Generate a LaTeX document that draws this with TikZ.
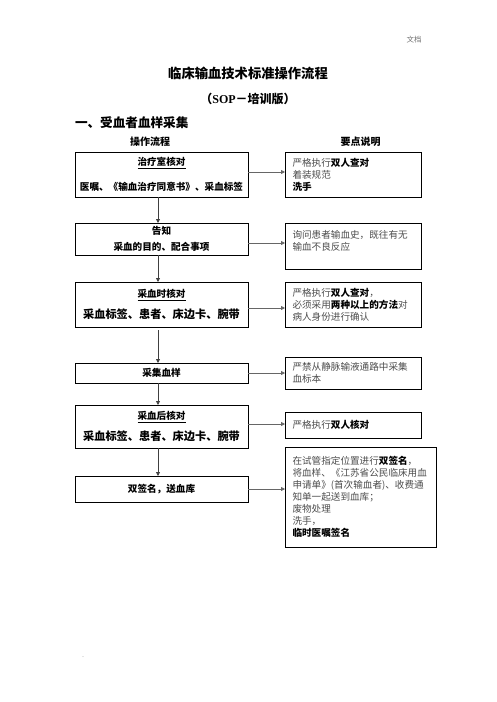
\documentclass[tikz,border=0pt]{standalone}
\usepackage{fontspec}
\setmainfont{Liberation Serif}
\newfontfamily\cjk{Noto Sans CJK SC}
\usetikzlibrary{arrows.meta}
\newcommand\strongtxt[1]{\textbf{\textcolor{black}{#1}}}
\begin{document}
\begin{tikzpicture}[x=1pt,y=-1pt,
  every node/.style={inner sep=0pt, outer sep=0pt},
  lbox/.style={draw, line width=0.8pt, minimum width=173pt, align=center,
    font=\cjk\bfseries\fontsize{9.6}{12}\selectfont},
  rbox/.style={draw, line width=0.8pt, align=left, inner xsep=7.5pt,
    font=\cjk\fontsize{9.6}{12}\selectfont, text=black!70},
  arr/.style={-{Triangle[length=4pt,width=4pt]}, line width=0.8pt, draw=black!75},
  harr/.style={arr, draw=black!60},
  big/.style={font=\cjk\bfseries\fontsize{11.2}{13}\selectfont}
]
\useasboundingbox (0,0) rectangle (496,702);

% headings
\node[font=\cjk\fontsize{7.5}{9}\selectfont, text=black!55] (doc) at (414,40) {文档};
\node[font=\cjk\bfseries\fontsize{13.3}{15}\selectfont] (title) at (248,73) {临床输血技术标准操作流程};
\node[font=\cjk\bfseries\fontsize{12}{14}\selectfont] (sub) at (248,99) {（{\rmfamily SOP}－培训版）};
\node[font=\cjk\bfseries\fontsize{12.6}{15}\selectfont, anchor=west] (sec) at (75,123) {一、受血者血样采集};
\node[font=\cjk\bfseries\fontsize{10}{12}\selectfont] (colA) at (150,142) {操作流程};
\node[font=\cjk\bfseries\fontsize{10}{12}\selectfont] (colB) at (360.5,142) {要点说明};

% left flow
\node[lbox, minimum height=45pt] (L1) at (161.5,174.5)
  {\underline{治疗室核对}\\[13pt]医嘱、《输血治疗同意书》、采血标签};
\node[lbox, minimum height=32pt] (L2) at (161.5,239)
  {告知\\[4pt]采血的目的、配合事项};
\node[lbox, minimum height=45pt] (L3) at (161.5,304.5)
  {\underline{采血时核对}\\[7pt]{\fontsize{11.2}{13}\selectfont 采血标签、患者、床边卡、腕带}};
\node[lbox, minimum height=20pt] (L4) at (161.5,373) {采集血样};
\node[lbox, minimum height=43pt] (L5) at (161.5,426.5)
  {\underline{采血后核对}\\[7pt]{\fontsize{11.2}{13}\selectfont 采血标签、患者、床边卡、腕带}};
\node[lbox, minimum height=26pt] (L6) at (161.5,489) {双签名，送血库};

% right notes
\node[rbox, text width=121pt, minimum height=45pt] (R1) at (353,174.5)
  {严格执行\strongtxt{双人查对}\\着装规范\\\strongtxt{洗手}};
\node[rbox, text width=121pt, minimum height=46pt] (R2) at (353,246)
  {询问患者输血史，既往有无\\输血不良反应\\\mbox{}};
\node[rbox, text width=121pt, minimum height=45pt] (R3) at (353,304.5)
  {严格执行\strongtxt{双人查对}，\\必须采用\strongtxt{两种以上的方法}对\\病人身份进行确认};
\node[rbox, text width=121pt, minimum height=32pt] (R4) at (353,373)
  {严禁从静脉输液通路中采集\\血标本};
\node[rbox, text width=121pt, minimum height=26pt] (R5) at (353,425)
  {严格执行\strongtxt{双人核对}};
\node[rbox, text width=136pt, minimum height=100pt] (R6) at (360.5,497)
  {在试管指定位置进行\strongtxt{双签名}，\\将血样、《江苏省公民临床用血\\申请单》(首次输血者)、收费通\\知单一起送到血库；\\废物处理\\洗手，\\\strongtxt{临时医嘱签名}};

% vertical arrows
\draw[arr] ([xshift=-3.5pt]L1.south) -- ([xshift=-3.5pt]L2.north);
\draw[arr] ([xshift=-3.5pt]L2.south) -- ([xshift=-3.5pt]L3.north);
\draw[arr, shorten <=3pt] ([xshift=-3.5pt]L3.south) -- ([xshift=-3.5pt]L4.north);
\draw[arr] ([xshift=-3.5pt]L4.south) -- ([xshift=-3.5pt]L5.north);
\draw[arr] ([xshift=-3.5pt]L5.south) -- ([xshift=-3.5pt]L6.north);

% horizontal connectors
\draw[harr] ([yshift=2.5pt]L1.east) -- ([yshift=2.5pt]L1.east -| R1.west);
\draw[harr] ([yshift=-4pt]L2.east) -- ([yshift=-4pt]L2.east -| R2.west);
\draw[harr] ([yshift=-3.5pt]L3.east) -- ([yshift=-3.5pt]L3.east -| R3.west);
\draw[harr] (L4.east) -- (L4.east -| R4.west);
\draw[harr] ([yshift=2.5pt]L5.east) -- ([yshift=2.5pt]L5.east -| R5.west);
\draw[harr] (L6.east) -- (L6.east -| R6.west);

\node[font=\fontsize{6}{7}\selectfont, text=black!60] (dot) at (83,657) {.};
\end{tikzpicture}
\end{document}
